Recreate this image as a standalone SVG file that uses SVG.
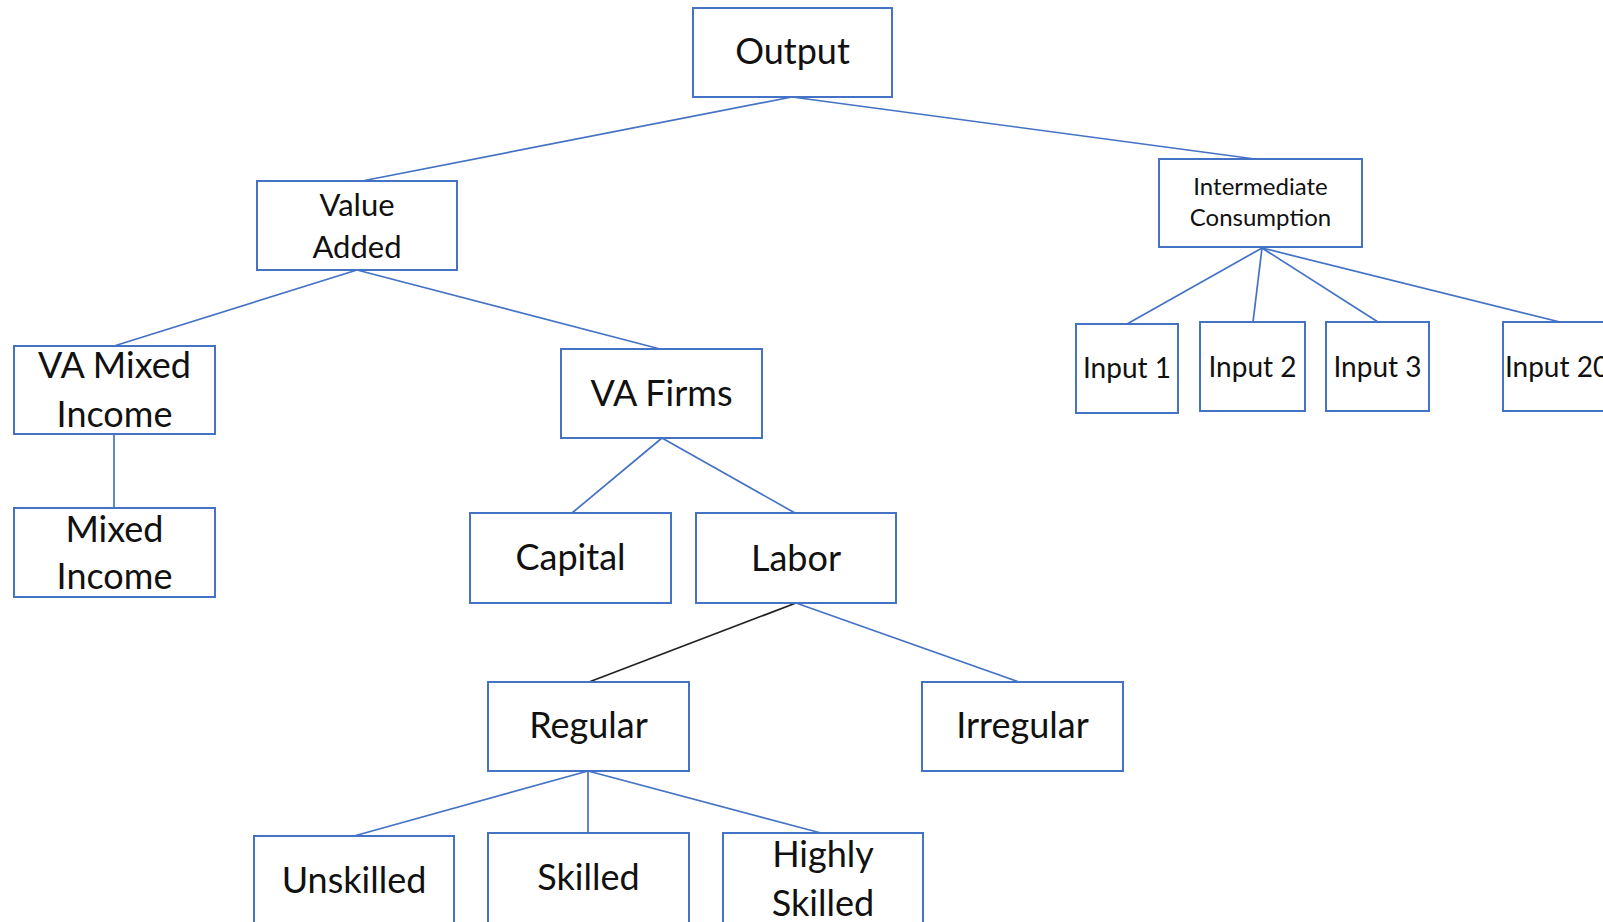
<svg xmlns="http://www.w3.org/2000/svg" width="1603" height="922" viewBox="0 0 1603 922">
<style>
.box{fill:#fff;stroke:#4472C4;stroke-width:2}
.t{font-family:Lato,"Liberation Sans",sans-serif;fill:#111;text-anchor:middle}
.l{font-size:36px}
.m{font-size:31px}
.s{font-size:24px}
.i{font-size:28px}
.c{stroke:#4472C4;stroke-width:1.7;fill:none}
.k{stroke:#222;stroke-width:1.7;fill:none}
</style>
<rect width="1603" height="922" fill="#fff"/>
<g id="connectors">
<line class="c" x1="792" y1="97" x2="362" y2="181"/>
<line class="c" x1="792" y1="97" x2="1255" y2="159"/>
<line class="c" x1="357" y1="270" x2="114" y2="346"/>
<line class="c" x1="357" y1="270" x2="660" y2="349"/>
<line class="c" x1="114" y1="434" x2="114" y2="508"/>
<line class="c" x1="662" y1="438" x2="572" y2="513"/>
<line class="c" x1="662" y1="438" x2="795" y2="513"/>
<line class="k" x1="796" y1="603" x2="589" y2="682"/>
<line class="c" x1="796" y1="603" x2="1019" y2="682"/>
<line class="c" x1="588" y1="771" x2="354" y2="836"/>
<line class="c" x1="588" y1="771" x2="588" y2="833"/>
<line class="c" x1="588" y1="771" x2="821" y2="833"/>
<line class="c" x1="1262" y1="248" x2="1127" y2="324"/>
<line class="c" x1="1262" y1="248" x2="1253" y2="322"/>
<line class="c" x1="1262" y1="248" x2="1378" y2="322"/>
<line class="c" x1="1262" y1="248" x2="1560" y2="322"/>
</g>
<g id="output"><rect class="box" x="693" y="8" width="199" height="89"/><text class="t l" x="792.5" y="64">Output</text></g>
<g id="value-added"><rect class="box" x="257" y="181" width="200" height="89"/><text class="t m" x="357" y="216">Value</text><text class="t m" x="357" y="258">Added</text></g>
<g id="intermediate-consumption"><rect class="box" x="1159" y="159" width="203" height="88"/><text class="t s" x="1260.5" y="195">Intermediate</text><text class="t s" x="1260.5" y="226">Consumption</text></g>
<g id="va-mixed-income"><rect class="box" x="14" y="346" width="201" height="88"/><text class="t l" x="114.5" y="378">VA Mixed</text><text class="t l" x="114.5" y="427">Income</text></g>
<g id="mixed-income"><rect class="box" x="14" y="508" width="201" height="89"/><text class="t l" x="114.5" y="542">Mixed</text><text class="t l" x="114.5" y="589">Income</text></g>
<g id="va-firms"><rect class="box" x="561" y="349" width="201" height="89"/><text class="t l" x="661.5" y="406">VA Firms</text></g>
<g id="capital"><rect class="box" x="470" y="513" width="201" height="90"/><text class="t l" x="570.5" y="570">Capital</text></g>
<g id="labor"><rect class="box" x="696" y="513" width="200" height="90"/><text class="t l" x="796" y="571">Labor</text></g>
<g id="regular"><rect class="box" x="488" y="682" width="201" height="89"/><text class="t l" x="588.5" y="738">Regular</text></g>
<g id="irregular"><rect class="box" x="922" y="682" width="201" height="89"/><text class="t l" x="1022.5" y="738">Irregular</text></g>
<g id="unskilled"><rect class="box" x="254" y="836" width="200" height="100"/><text class="t l" x="354" y="893">Unskilled</text></g>
<g id="skilled"><rect class="box" x="488" y="833" width="201" height="100"/><text class="t l" x="588.5" y="890">Skilled</text></g>
<g id="highly-skilled"><rect class="box" x="723" y="833" width="200" height="100"/><text class="t l" x="823" y="867">Highly</text><text class="t l" x="823" y="916">Skilled</text></g>
<g id="input-1"><rect class="box" x="1076" y="324" width="102" height="89"/><text class="t i" x="1127" y="378">Input 1</text></g>
<g id="input-2"><rect class="box" x="1200" y="322" width="105" height="89"/><text class="t i" x="1252.5" y="377">Input 2</text></g>
<g id="input-3"><rect class="box" x="1326" y="322" width="103" height="89"/><text class="t i" x="1377.5" y="377">Input 3</text></g>
<g id="input-20"><rect class="box" x="1503" y="322" width="104" height="89"/><text class="t i" x="1557" y="377">Input 20</text></g>
</svg>
